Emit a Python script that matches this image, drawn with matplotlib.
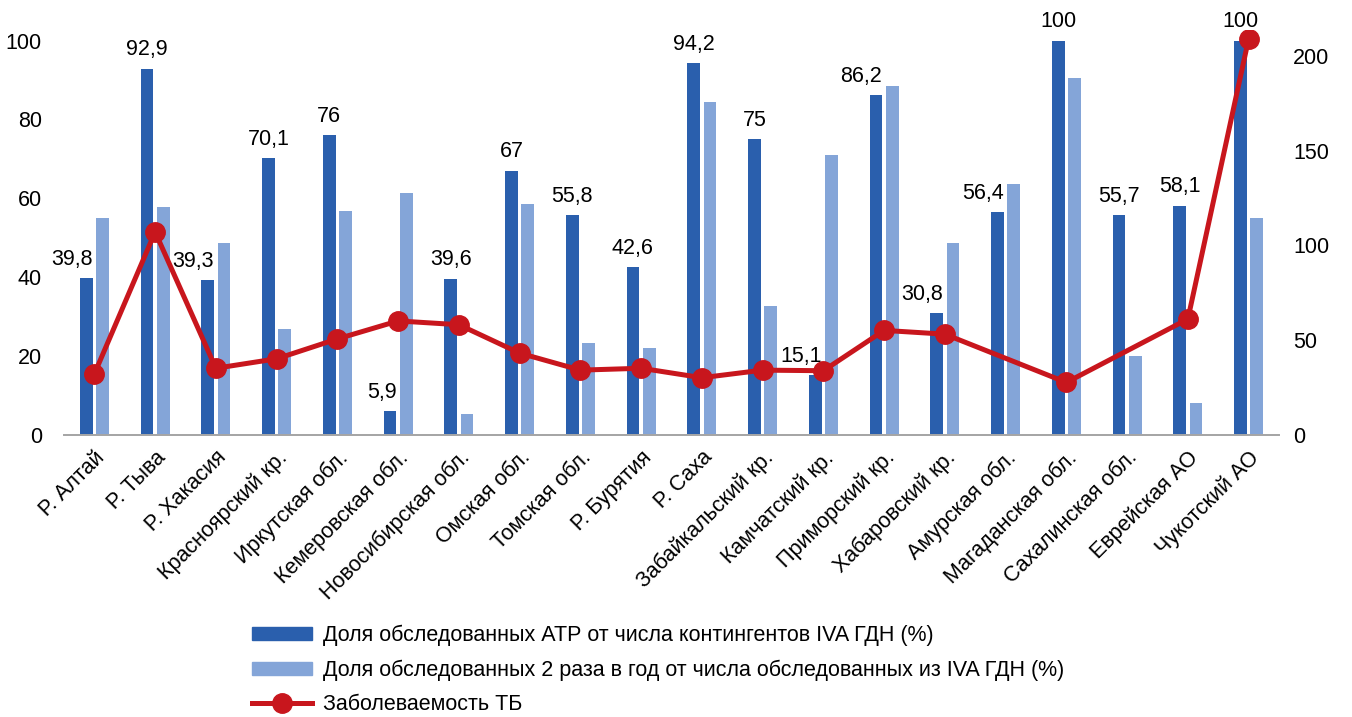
import numpy as np
import matplotlib
matplotlib.use("Agg")
import matplotlib.pyplot as plt
from matplotlib.lines import Line2D
from matplotlib.patches import Patch

plt.rcParams['font.family'] = ['Liberation Sans', 'DejaVu Sans']

# data
regions = ["Р. Алтай", "Р. Тыва", "Р. Хакасия", "Красноярский кр.", "Иркутская обл.",
           "Кемеровская обл.", "Новосибирская обл.", "Омская обл.", "Томская обл.",
           "Р. Бурятия", "Р. Саха", "Забайкальский кр.", "Камчатский кр.",
           "Приморский кр.", "Хабаровский кр.", "Амурская обл.", "Магаданская обл.",
           "Сахалинская обл.", "Еврейская АО", "Чукотский АО"]
atr_share = [39.8, 92.9, 39.3, 70.1, 76, 5.9, 39.6, 67, 55.8, 42.6,
             94.2, 75, 15.1, 86.2, 30.8, 56.4, 100, 55.7, 58.1, 100]
twice_share = [55, 57.8, 48.5, 26.8, 56.8, 61.4, 5.1, 58.4, 23.2, 21.9,
               84.3, 32.6, 71, 88.6, 48.5, 63.6, 90.4, 20, 8.1, 55]
tb_rate = [32, 107, 35, 40, 50.5, 60, 58, 43, 34, 35,
           30, 34, 33.7, 55, 53, np.nan, 27.5, np.nan, 61, 209]

labels_legend = ["Доля обследованных АТР от числа контингентов IVA ГДН (%)",
                 "Доля обследованных 2 раза в год от числа обследованных из IVA ГДН (%)",
                 "Заболеваемость ТБ"]

# value labels that sit flush with the right edge of the bar instead of centred
right_aligned = {0, 2, 5, 12, 13, 14, 15}

dark = "#2A5FAD"
light = "#84A5D8"
red = "#C8161D"
fs = 15.5

fig = plt.figure(figsize=(13.52, 7.17), dpi=100)
ax = fig.add_axes([64/1352, 1-434.5/717, 1215/1352, 404.5/717])
ax2 = ax.twinx()

x = np.arange(len(regions))
w = 0.21
off = 0.135
ax.bar(x - off, atr_share, w, color=dark, zorder=2)
ax.bar(x + off, twice_share, w, color=light, zorder=2)

for i, v in enumerate(atr_share):
    txt = ("%g" % v).replace(".", ",")
    if i in right_aligned:
        ax.annotate(txt, (x[i] - off + w/2, v), xytext=(0, 9.5), textcoords="offset points",
                    ha="right", va="baseline", fontsize=fs)
    else:
        ax.annotate(txt, (x[i] - off, v), xytext=(0, 9.5), textcoords="offset points",
                    ha="center", va="baseline", fontsize=fs)

# line skips missing values but still connects neighbours
tb = np.array(tb_rate)
ok = ~np.isnan(tb)
ax2.plot(x[ok], tb[ok], color=red, lw=3.6, marker="o", ms=14, zorder=3)

ax.set_xlim(-0.5, len(regions) - 0.5)
ax.set_ylim(0, 102.7)
ax2.set_ylim(0, 213.7)
ax.set_yticks([0, 20, 40, 60, 80, 100])
ax2.set_yticks([0, 50, 100, 150, 200])

ax.set_xticks(x)
ax.set_xticklabels(regions, rotation=45, ha="right", rotation_mode="anchor", fontsize=fs)
ax.tick_params(axis="both", length=0, labelsize=fs)
ax.tick_params(axis="y", pad=16)
ax2.tick_params(axis="y", length=0, labelsize=fs, pad=10)
ax.tick_params(axis="x", pad=9)

for a in (ax, ax2):
    for s in ["top", "left", "right"]:
        a.spines[s].set_visible(False)
    a.spines["bottom"].set_color("#A6A6A6")
    a.spines["bottom"].set_linewidth(1.3)

ax2.set_zorder(ax.get_zorder() + 1)
ax2.patch.set_visible(False)

handles = [Patch(color=dark), Patch(color=light),
           Line2D([], [], color=red, lw=3.6, marker="o", ms=14)]
fig.legend(handles, labels_legend, loc="upper left", bbox_to_anchor=(252/1352, 1-625/717),
           frameon=False, fontsize=fs, handlelength=2.8, handleheight=0.55,
           labelspacing=0.62, handletextpad=0.5, borderpad=0, borderaxespad=0)

fig.savefig("out.png", dpi=100)
